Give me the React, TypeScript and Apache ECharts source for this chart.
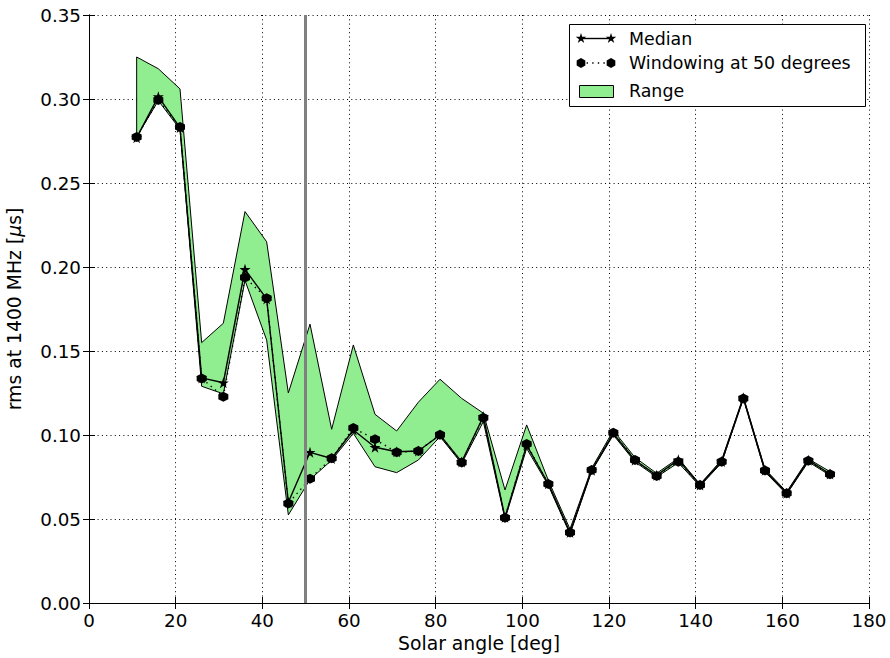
import React, { useEffect, useRef } from "react";
import * as echarts from "echarts";

const angles = [11, 16, 21, 26, 31, 36, 41, 46, 51, 56, 61, 66, 71, 76, 81, 86, 91, 96, 101, 106, 111, 116, 121, 126, 131, 136, 141, 146, 151, 156, 161, 166, 171];
const median = [0.277, 0.3014, 0.283, 0.134, 0.1311, 0.1986, 0.181, 0.06, 0.0897, 0.086, 0.103, 0.0927, 0.09, 0.0905, 0.1, 0.084, 0.111, 0.051, 0.094, 0.071, 0.042, 0.079, 0.101, 0.085, 0.076, 0.0852, 0.0702, 0.0842, 0.1222, 0.079, 0.0653, 0.085, 0.0768];
const windowing = [0.2774, 0.2994, 0.2833, 0.1337, 0.1228, 0.1937, 0.1814, 0.0593, 0.074, 0.0861, 0.1042, 0.0974, 0.0897, 0.0905, 0.1002, 0.0837, 0.1103, 0.0508, 0.0946, 0.0708, 0.0419, 0.0792, 0.1014, 0.0851, 0.0756, 0.0841, 0.0702, 0.0841, 0.1218, 0.0788, 0.0653, 0.0847, 0.0766];
const rangeUpper = [0.325, 0.318, 0.306, 0.155, 0.1665, 0.233, 0.215, 0.125, 0.166, 0.1034, 0.1536, 0.1123, 0.1024, 0.1195, 0.1332, 0.1218, 0.113, 0.0673, 0.106, 0.073, 0.044, 0.0802, 0.1027, 0.0866, 0.0772, 0.0862, 0.0707, 0.0852, 0.1228, 0.0797, 0.0662, 0.0858, 0.0782];
const rangeLower = [0.2774, 0.299, 0.282, 0.129, 0.1245, 0.192, 0.1565, 0.0524, 0.0735, 0.085, 0.101, 0.0811, 0.0776, 0.0851, 0.099, 0.083, 0.108, 0.05, 0.092, 0.07, 0.041, 0.0785, 0.1, 0.084, 0.075, 0.0835, 0.0695, 0.0835, 0.1215, 0.078, 0.0648, 0.084, 0.076];
const xTicks = { min: 0, max: 180, interval: 20 };
const yTicks = { min: 0, max: 0.35, interval: 0.05 };
const windowAngle = 50;
const seriesNames = ["Median", "Windowing at 50 degrees", "Range"];

const FONT = "DejaVu Sans";
const FS_TICK = 18.3;
const FS_TITLE = 18.8;
const FS_LEG = 17.4;
const STAR = "path://M0,-1 L0.2245,-0.309 L0.951,-0.309 L0.363,0.118 L0.588,0.809 L0,0.382 L-0.588,0.809 L-0.363,0.118 L-0.951,-0.309 L-0.2245,-0.309 Z";
const HEX = "path://M0,-1 L0.866,-0.5 L0.866,0.5 L0,1 L-0.866,0.5 L-0.866,-0.5 Z";

function starPts(cx: number, cy: number, r: number) {
  const pts: number[][] = [];
  for (let k = 0; k < 10; k++) {
    const a = -Math.PI / 2 + (k * Math.PI) / 5;
    const rr = k % 2 === 0 ? r : r * 0.382;
    pts.push([cx + rr * Math.cos(a), cy + rr * Math.sin(a)]);
  }
  return pts;
}
function hexPts(cx: number, cy: number, r: number) {
  const pts: number[][] = [];
  for (let k = 0; k < 6; k++) {
    const a = -Math.PI / 2 + (k * Math.PI) / 3;
    pts.push([cx + r * Math.cos(a), cy + r * Math.sin(a)]);
  }
  return pts;
}

export default function App() {
  const ref = useRef<HTMLDivElement>(null);
  useEffect(() => {
    if (!ref.current) return;
    const chart = echarts.init(ref.current, null, { renderer: "svg" });
    const axisLine = { show: true, lineStyle: { color: "#000", width: 1 } };
    const tick = { show: true, inside: true, length: 6, lineStyle: { color: "#000", width: 1 } };
    const split = { show: true, lineStyle: { color: "#000", width: 1, type: [1, 3.3] as any } };
    const label = { color: "#000", fontSize: FS_TICK, fontFamily: FONT };

    const lx1 = 581, lx2 = 611;
    const legend = [
      { type: "rect", shape: { x: 569.5, y: 24.5, width: 296, height: 82 }, style: { fill: "#fff", stroke: "#000", lineWidth: 1 } },
      { type: "line", shape: { x1: lx1, y1: 38.5, x2: lx2, y2: 38.5 }, style: { stroke: "#000", lineWidth: 1.4 } },
      { type: "polygon", shape: { points: starPts(lx1, 38.5, 5.5) }, style: { fill: "#000" } },
      { type: "polygon", shape: { points: starPts(lx2, 38.5, 5.5) }, style: { fill: "#000" } },
      { type: "text", x: 629, y: 39, style: { text: seriesNames[0], fontSize: FS_LEG, fontFamily: FONT, fill: "#000", verticalAlign: "middle" } },
      { type: "line", shape: { x1: lx1, y1: 63, x2: lx2, y2: 63 }, style: { stroke: "#000", lineWidth: 1.4, lineDash: [1.4, 4.2] } },
      { type: "polygon", shape: { points: hexPts(lx1, 63, 5) }, style: { fill: "#000" } },
      { type: "polygon", shape: { points: hexPts(lx2, 63, 5) }, style: { fill: "#000" } },
      { type: "text", x: 629, y: 63, style: { text: seriesNames[1], fontSize: FS_LEG, fontFamily: FONT, fill: "#000", verticalAlign: "middle" } },
      { type: "rect", shape: { x: 579.5, y: 85.5, width: 34, height: 12 }, style: { fill: "#90EE90", stroke: "#000", lineWidth: 1 } },
      { type: "text", x: 629, y: 91, style: { text: seriesNames[2], fontSize: FS_LEG, fontFamily: FONT, fill: "#000", verticalAlign: "middle" } },
    ].map((g) => ({ ...g, z: 100 }));

    chart.setOption({
      animation: false,
      backgroundColor: "#fff",
      textStyle: { fontFamily: FONT },
      grid: { left: 89, right: 21, top: 15, bottom: 55, containLabel: false, outerBoundsMode: "none" },
      xAxis: [
        {
          type: "value", position: "bottom", ...xTicks,
          axisLine, axisTick: tick, splitLine: split,
          axisLabel: { ...label, margin: 8 },
          name: "Solar angle [deg]", nameLocation: "middle", nameGap: 31,
          nameTextStyle: { color: "#000", fontSize: FS_TITLE, fontFamily: FONT },
        },
        {
          type: "value", position: "top", ...xTicks,
          axisLine, axisTick: tick, splitLine: { show: false }, axisLabel: { show: false },
        },
      ],
      yAxis: [
        {
          type: "value", position: "left", ...yTicks,
          axisLine, axisTick: tick, splitLine: split,
          axisLabel: { ...label, margin: 8, formatter: (v: number) => v.toFixed(2) },
          name: "rms at 1400 MHz [{i|μ}s]", nameLocation: "middle", nameRotate: 90, nameGap: 65,
          nameTextStyle: {
            color: "#000", fontSize: FS_TITLE, fontFamily: FONT,
            rich: { i: { fontStyle: "italic", fontSize: FS_TITLE, fontFamily: FONT, color: "#000" } },
          },
        },
        {
          type: "value", position: "right", ...yTicks,
          axisLine, axisTick: tick, splitLine: { show: false }, axisLabel: { show: false },
        },
      ],
      series: [
        {
          name: seriesNames[2],
          type: "custom",
          clip: true,
          data: [[angles[0], rangeUpper[0]]],
          renderItem: (_p: any, api: any) => {
            const pts: number[][] = [];
            for (let i = 0; i < angles.length; i++) pts.push(api.coord([angles[i], rangeUpper[i]]));
            for (let i = angles.length - 1; i >= 0; i--) pts.push(api.coord([angles[i], rangeLower[i]]));
            return { type: "polygon", shape: { points: pts }, style: { fill: "#90EE90", stroke: "#000", lineWidth: 1 } };
          },
          markLine: {
            silent: true, symbol: "none", label: { show: false },
            lineStyle: { color: "#808080", width: 3, type: "solid" },
            data: [{ xAxis: windowAngle }],
          },
          z: 2,
        },
        {
          name: seriesNames[0],
          type: "line",
          data: angles.map((a, i) => [a, median[i]]),
          symbol: STAR, symbolSize: 11,
          itemStyle: { color: "#000" },
          lineStyle: { color: "#000", width: 1.4 },
          z: 3,
        },
        {
          name: seriesNames[1],
          type: "line",
          data: angles.map((a, i) => [a, windowing[i]]),
          symbol: HEX, symbolSize: 10,
          itemStyle: { color: "#000" },
          lineStyle: { color: "#000", width: 1.4, type: [1.4, 4.2] as any },
          z: 4,
        },
      ],
      graphic: legend,
    });
    return () => chart.dispose();
  }, []);
  return <div ref={ref} style={{ position: "fixed", left: 0, top: 0, width: 890, height: 658, background: "#fff" }} />;
}
